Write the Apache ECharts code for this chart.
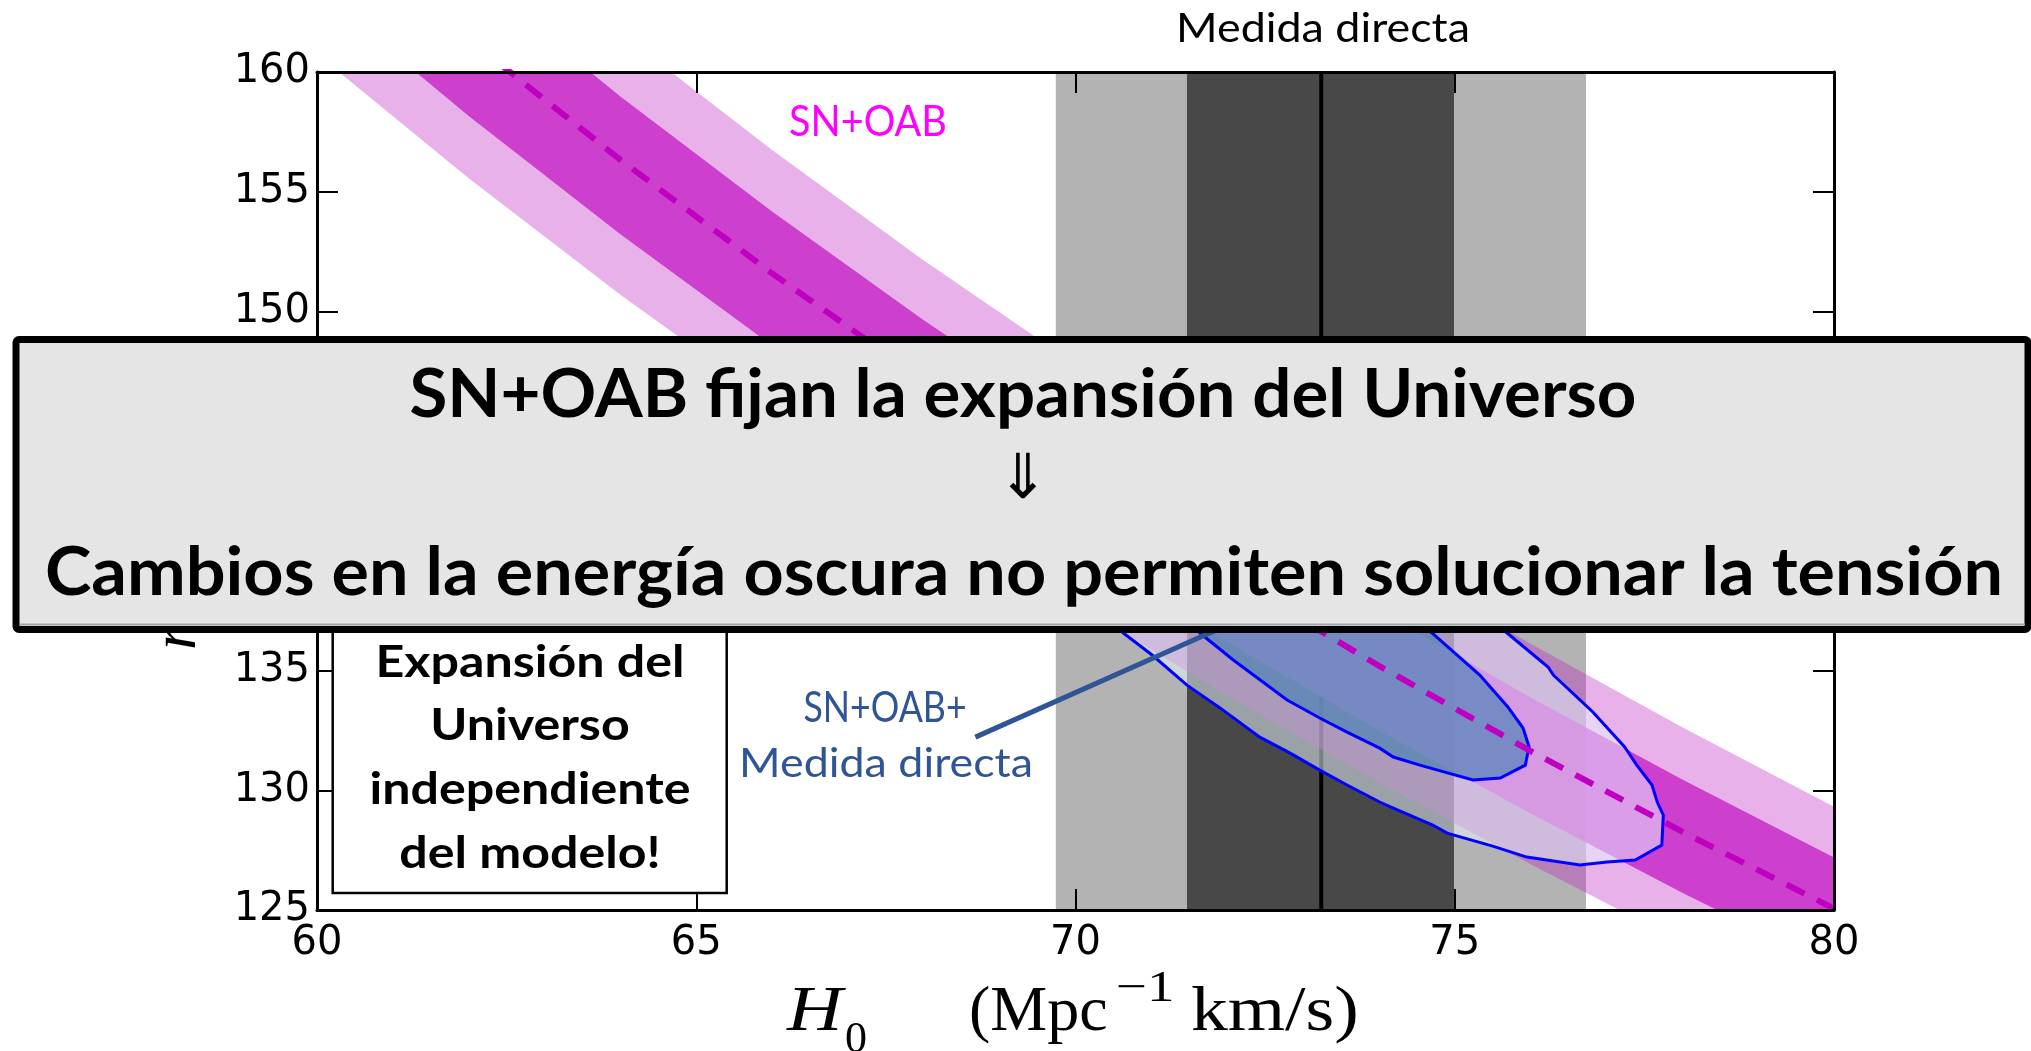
<!DOCTYPE html>
<html>
<head>
<meta charset="utf-8">
<title>SN+OAB y medida directa de H0</title>
<script src="https://cdn.jsdelivr.net/npm/echarts@6/dist/echarts.min.js"></script>
<style>
  html, body { margin: 0; padding: 0; background: #fff; }
  #chart { width: 2031px; height: 1051px; }
</style>
</head>
<body>
<div id="chart"></div>
<script>
// ejes
const xMin = 60, xMax = 80, xStep = 5;
const yMin = 125, yMax = 160, yStep = 5;

// medida directa de H0 (bandas verticales)
const directH0 = 73.24;
const direct1sigma = [71.47, 74.99];
const direct2sigma = [69.74, 76.73];

const bandH0 = [60, 62, 64, 66, 68, 70, 72, 74, 76, 78, 80];
const snCenter = [166.75, 161.37, 156.33, 151.59, 147.13, 142.93, 138.96, 135.20, 131.64, 128.27, 125.06];
const sn1Low = [163.43, 158.16, 153.22, 148.58, 144.21, 140.09, 136.19, 132.51, 129.03, 125.72, 122.58];
const sn1High = [169.58, 164.11, 158.98, 154.17, 149.63, 145.36, 141.32, 137.50, 133.88, 130.45, 127.19];
const sn2Low = [160.75, 155.56, 150.70, 146.14, 141.84, 137.79, 133.96, 130.34, 126.91, 123.65, 120.56];
const sn2High = [172.42, 166.85, 161.64, 156.74, 152.13, 147.79, 143.68, 139.80, 136.12, 132.63, 129.31];

// contornos SN+OAB + medida directa [H0, rd]
const contour2 = [
  [70.63, 136.57], [71.01, 135.65], [71.47, 134.39], [71.91, 133.43], [72.43, 132.22],
  [72.83, 131.55], [73.22, 130.84], [73.58, 130.22], [74.01, 129.51], [74.19, 129.26],
  [74.71, 128.55], [74.90, 128.21], [75.50, 127.67], [75.95, 127.21], [76.65, 126.88],
  [77.01, 127.00], [77.38, 127.09], [77.73, 127.71], [77.75, 128.96], [77.67, 129.51],
  [77.60, 130.22], [77.40, 131.05], [77.24, 131.81], [76.82, 133.27], [76.30, 134.81],
  [76.23, 135.15], [75.69, 136.57], [74.8, 139.0], [73.6, 141.6], [72.2, 143.8],
  [70.9, 145.0], [69.9, 144.6], [69.5, 143.0], [69.8, 139.9]
];
const contour1 = [
  [71.64, 136.57], [72.08, 135.44], [72.79, 133.77], [73.22, 133.02], [73.58, 132.43],
  [74.01, 131.76], [74.19, 131.39], [74.54, 131.05], [75.24, 130.43], [75.60, 130.51],
  [75.93, 131.05], [75.98, 131.81], [75.90, 132.60], [75.70, 133.48], [75.33, 134.81],
  [74.70, 136.57], [73.9, 138.6], [72.9, 140.4], [72.0, 141.2], [71.4, 140.2], [71.4, 138.2]
];

// linea de la anotacion
const annotLine = [[68.68, 132.22], [72.30, 137.32]];

const chart = echarts.init(document.getElementById('chart'));

function clipRect(params) {
  const c = params.coordSys;
  return { type: 'rect', shape: { x: c.x, y: c.y, width: c.width, height: c.height } };
}

// poligono de banda: borde superior + borde inferior invertido
function bandPoints(low, high, api) {
  const up = bandH0.map((h, i) => api.coord([h, high[i]]));
  const down = bandH0.map((h, i) => api.coord([h, low[i]])).reverse();
  return up.concat(down);
}

const bands = [
  { low: sn2Low, high: sn2High, fill: 'rgba(190, 27, 190, 0.342)' },
  { low: sn1Low, high: sn1High, fill: 'rgba(200, 45, 200, 0.85)' }
];
const contours = [
  { pts: contour2, fill: 'rgba(230, 243, 255, 0.52)' },
  { pts: contour1, fill: 'rgba(70, 130, 180, 0.65)' }
];

const axisCommon = {
  type: 'value',
  axisLine: { show: true, lineStyle: { color: '#000', width: 3 } },
  axisTick: { show: true, inside: true, length: 21, lineStyle: { color: '#000', width: 2 } },
  splitLine: { show: false },
  z: 10
};
const labelStyle = { color: '#000', fontFamily: 'DejaVu Sans', fontSize: 40 };

const serif = 'Liberation Serif';

const option = {
  backgroundColor: '#fff',
  animation: false,
  grid: { left: 317, top: 72, width: 1517, height: 838 },
  xAxis: [
    Object.assign({}, axisCommon, {
      min: xMin, max: xMax, interval: xStep, position: 'bottom',
      axisLabel: Object.assign({ margin: 14 }, labelStyle)
    }),
    Object.assign({}, axisCommon, {
      min: xMin, max: xMax, interval: xStep, position: 'top',
      axisLabel: { show: false }
    })
  ],
  yAxis: [
    Object.assign({}, axisCommon, {
      min: yMin, max: yMax, interval: yStep, position: 'left',
      axisLabel: Object.assign({ margin: 7 }, labelStyle)
    }),
    Object.assign({}, axisCommon, {
      min: yMin, max: yMax, interval: yStep, position: 'right',
      axisLabel: { show: false }
    })
  ],
  series: [
    {
      // bandas grises de la medida directa
      type: 'custom',
      z: 1,
      silent: true,
      data: [
        [direct2sigma[0], direct2sigma[1], 0],
        [direct1sigma[0], direct1sigma[1], 1]
      ],
      renderItem: (params, api) => {
        const p0 = api.coord([api.value(0), yMax]);
        const p1 = api.coord([api.value(1), yMin]);
        return {
          type: 'rect',
          shape: { x: p0[0], y: p0[1], width: p1[0] - p0[0], height: p1[1] - p0[1] },
          style: { fill: api.value(2) === 0 ? '#b3b3b3' : '#484848' }
        };
      }
    },
    {
      type: 'line',
      z: 2,
      silent: true,
      showSymbol: false,
      data: [[directH0, yMin], [directH0, yMax]],
      lineStyle: { color: '#000', width: 4 }
    },
    {
      // bandas SN+OAB
      type: 'custom',
      z: 3,
      silent: true,
      data: bands.map((b, i) => [bandH0[5], b.high[5], i]),
      renderItem: (params, api) => {
        const b = bands[params.dataIndex];
        return {
          type: 'polygon',
          clipPath: clipRect(params),
          shape: { points: bandPoints(b.low, b.high, api) },
          style: { fill: b.fill }
        };
      }
    },
    {
      // contornos SN+OAB + medida directa
      type: 'custom',
      z: 4,
      silent: true,
      data: contours.map((c, i) => [c.pts[0][0], c.pts[0][1], i]),
      renderItem: (params, api) => {
        const c = contours[params.dataIndex];
        return {
          type: 'polygon',
          clipPath: clipRect(params),
          shape: { points: c.pts.map(p => api.coord(p)) },
          style: { fill: c.fill, stroke: '#0000ff', lineWidth: 3 }
        };
      }
    },
    {
      type: 'line',
      z: 5,
      silent: true,
      showSymbol: false,
      data: bandH0.map((h, i) => [h, snCenter[i]]),
      lineStyle: { color: '#c000c0', width: 6, type: [20, 14] }
    },
    {
      type: 'line',
      z: 6,
      silent: true,
      showSymbol: false,
      data: annotLine,
      lineStyle: { color: '#2f5597', width: 5 }
    }
  ],
  graphic: {
    elements: [
      {
        type: 'text', x: 1323, y: 29, z: 20, scaleX: 1.12,
        style: { text: 'Medida directa', fill: '#000', fontFamily: 'Lato', fontSize: 40, align: 'center', verticalAlign: 'middle' }
      },
      {
        type: 'text', x: 868, y: 122, z: 20, scaleX: 0.92,
        style: { text: 'SN+OAB', fill: '#ff00ff', fontFamily: 'Lato', fontSize: 43, align: 'center', verticalAlign: 'middle' }
      },
      {
        type: 'text', x: 885, y: 708, z: 20, scaleX: 0.85,
        style: { text: 'SN+OAB+', fill: '#2f5597', fontFamily: 'Lato', fontSize: 42, align: 'center', verticalAlign: 'middle' }
      },
      {
        type: 'text', x: 886, y: 764, z: 20, scaleX: 1.12,
        style: { text: 'Medida directa', fill: '#2f5597', fontFamily: 'Lato', fontSize: 40, align: 'center', verticalAlign: 'middle' }
      },
      {
        type: 'rect', z: 20,
        shape: { x: 332.7, y: 600, width: 394, height: 293 },
        style: { fill: '#fff', stroke: '#000', lineWidth: 2.5 }
      },
      {
        type: 'text', x: 530, y: 758, z: 21, scaleX: 1.14,
        style: {
          text: 'Expansión del\nUniverso\nindependiente\ndel modelo!',
          fill: '#000', fontFamily: 'Lato', fontWeight: 'bold', fontSize: 44, lineHeight: 63.7,
          align: 'center', verticalAlign: 'middle'
        }
      },
      // titulo del eje x
      {
        type: 'text', x: 787, y: 1013, z: 20, scaleX: 1.2,
        style: { text: 'H', fill: '#000', fontFamily: serif, fontStyle: 'italic', fontSize: 64, align: 'left', verticalAlign: 'middle' }
      },
      {
        type: 'text', x: 845, y: 1040, z: 20,
        style: { text: '0', fill: '#000', fontFamily: serif, fontSize: 44, align: 'left', verticalAlign: 'middle' }
      },
      {
        type: 'text', x: 969, y: 1013, z: 20,
        style: { text: '(Mpc', fill: '#000', fontFamily: serif, fontSize: 64, align: 'left', verticalAlign: 'middle' }
      },
      {
        type: 'text', x: 1116, y: 989, z: 20, scaleX: 1.25,
        style: { text: '\u22121', fill: '#000', fontFamily: serif, fontSize: 44, align: 'left', verticalAlign: 'middle' }
      },
      {
        type: 'text', x: 1191, y: 1013, z: 20, scaleX: 1.15,
        style: { text: 'km/s)', fill: '#000', fontFamily: serif, fontSize: 64, align: 'left', verticalAlign: 'middle' }
      },
      // titulo del eje y (casi todo tapado por el recuadro)
      {
        type: 'text', x: 178, y: 650, z: 20, rotation: Math.PI / 2,
        style: {
          text: '{r|r}{d|d}{n|    (Mpc)}',
          align: 'left', verticalAlign: 'middle',
          rich: {
            r: { fill: '#000', fontFamily: serif, fontStyle: 'italic', fontSize: 64 },
            d: { fill: '#000', fontFamily: serif, fontStyle: 'italic', fontSize: 44 },
            n: { fill: '#000', fontFamily: serif, fontSize: 64 }
          }
        }
      },
      // recuadro superpuesto
      {
        type: 'rect', z: 30,
        shape: { x: 16, y: 339.5, width: 2012, height: 290, r: 3 },
        style: { fill: '#e5e5e5', stroke: '#000', lineWidth: 7 }
      },
      {
        type: 'line', z: 31,
        shape: { x1: 20, y1: 624.5, x2: 2025, y2: 624.5 },
        style: { stroke: '#a6a6a6', lineWidth: 2 }
      },
      {
        type: 'text', x: 1023, y: 395, z: 31, scaleX: 1.03,
        style: { text: 'SN+OAB fijan la expansión del Universo', fill: '#000', fontFamily: 'Lato', fontWeight: 'bold', fontSize: 67, align: 'center', verticalAlign: 'middle' }
      },
      {
        type: 'text', x: 1023, y: 482, z: 31,
        style: { text: '\u21d3', fill: '#000', fontFamily: 'DejaVu Sans', fontSize: 62, align: 'center', verticalAlign: 'middle' }
      },
      {
        type: 'text', x: 1024, y: 573, z: 31, scaleX: 1.047,
        style: { text: 'Cambios en la energía oscura no permiten solucionar la tensión', fill: '#000', fontFamily: 'Lato', fontWeight: 'bold', fontSize: 67, align: 'center', verticalAlign: 'middle' }
      }
    ]
  }
};

chart.setOption(option);
</script>
</body>
</html>
